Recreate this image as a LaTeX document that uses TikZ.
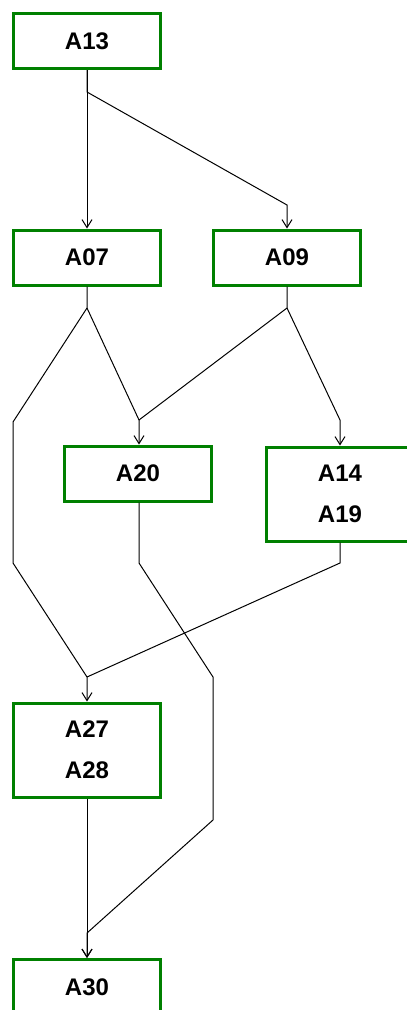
\documentclass[tikz,border=0pt]{standalone}
\usepackage{fontspec}
\setmainfont{Liberation Sans}
\usetikzlibrary{arrows.meta}

\definecolor{boxgreen}{RGB}{0,128,0}

\tikzset{every picture/.style={line width=1pt}}
\tikzset{
  act/.style={draw=boxgreen, line width=3pt, fill=white, inner sep=0pt,
    minimum width=147pt, minimum height=55pt, align=center,
    font=\fontsize{24}{41}\selectfont\bfseries},
  act2/.style={act, minimum height=94pt},
  flow/.style={-{Straight Barb[length=8pt,width=10pt]}, line width=1pt},
}

\begin{document}
\begin{tikzpicture}[x=1pt,y=1pt,yscale=-1]
\useasboundingbox (0,0) rectangle (407,1010);

%Activities
\node[act] (a13) at (87,41) {A13};
\node[act] (a07) at (87,257.5) {A07};
\node[act] (a09) at (287,257.5) {A09};
\node[act] (a20) at (138,473.5) {A20};
\node[act2] (a14) at (340,494) {A14\\A19};
\node[act2] (a27) at (87,750) {A27\\A28};
\node[act] (a30) at (87,987) {A30};

%Bend points
\coordinate (s13) at (87,92);
\coordinate (k09) at (287,205);
\coordinate (s07) at (87,308);
\coordinate (s09) at (287,308);
\coordinate (m20) at (139,420);
\coordinate (m14) at (340,420);
\coordinate (l1) at (13,422);
\coordinate (l2) at (13,563);
\coordinate (m27) at (87,677);
\coordinate (r1) at (139,563);
\coordinate (r2) at (213,677);
\coordinate (r3) at (213,820);
\coordinate (m30) at (87,933);
\coordinate (s14) at (340,563);

%Connectors
\draw[flow] (a13) -- (a07);
\draw[flow] (a13.south) -- (s13) -- (k09) -- (a09.north);
\draw[flow] (a07.south) -- (s07) -- (m20) -- (m20 |- a20.north);
\draw (a09.south) -- (s09) -- (m20);
\draw[flow] (s09) -- (m14) -- (m14 |- a14.north);
\draw[flow] (s07) -- (l1) -- (l2) -- (m27) -- (a27.north);
\draw (a14.south) -- (s14) -- (m27);
\draw[flow] (r1 |- a20.south) -- (r1) -- (r2) -- (r3) -- (m30) -- (a30.north);
\draw[flow] (a27) -- (a30);

\end{tikzpicture}
\end{document}
